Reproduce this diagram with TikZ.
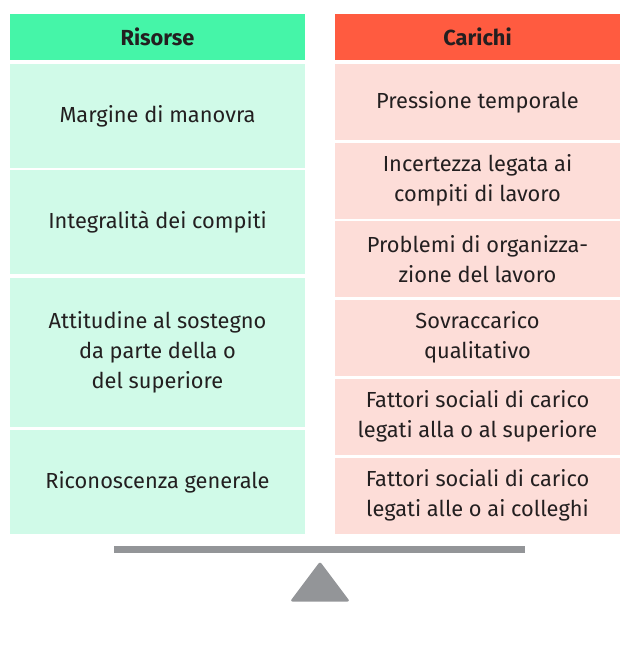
\documentclass[tikz,border=0pt]{standalone}
\usepackage{fontspec}
\setmainfont{Fira Sans}
\definecolor{hgreen}{HTML}{45F5A8}
\definecolor{lgreen}{HTML}{D0FAE8}
\definecolor{hred}{HTML}{FF5B40}
\definecolor{lred}{HTML}{FDDDD8}
\definecolor{txt}{HTML}{231F20}
\definecolor{scalegray}{HTML}{939598}
\begin{document}
\begin{tikzpicture}[x=1pt,y=-1pt,
  cell/.style={anchor=north west, inner sep=0pt, outer sep=0pt, align=center,
    text=txt, font=\fontsize{21.8}{30}\selectfont},
  lcell/.style={cell, fill=lgreen, minimum width=295pt},
  rcell/.style={cell, fill=lred, minimum width=285pt, minimum height=76pt},
  lhead/.style={cell, fill=hgreen, minimum width=295pt, minimum height=46pt, font=\fontsize{21.8}{30}\selectfont\bfseries},
  rhead/.style={cell, fill=hred, minimum width=285pt, minimum height=46pt, font=\fontsize{21.8}{30}\selectfont\bfseries}]
\useasboundingbox (0,0) rectangle (620,645);
% headers
\node[lhead] (lh) at (10,14) {Risorse};
\node[rhead] (rh) at (335,14) {Carichi};
% left column
\node[lcell, minimum height=104pt] (l1) at (10,64) {Margine di manovra};
\node[lcell, minimum height=104pt] (l2) at (10,170) {Integralità dei compiti};
\node[lcell, minimum height=149pt] (l3) at (10,278) {Attitudine al sostegno\\da parte della o\\del superiore};
\node[lcell, minimum height=104pt] (l4) at (10,430) {Riconoscenza generale};
% right column
\node[rcell] (r1) at (335,64) {Pressione temporale};
\node[rcell] (r2) at (335,142.5) {Incertezza legata ai\\compiti di lavoro};
\node[rcell] (r3) at (335,221) {Problemi di organizza-\\zione del lavoro};
\node[rcell] (r4) at (335,299.5) {Sovraccarico\\qualitativo};
\node[rcell] (r5) at (335,378.5) {Fattori sociali di carico\\legati alla o al superiore};
\node[rcell] (r6) at (335,457.5) {Fattori sociali di carico\\legati alle o ai colleghi};
% balance
\fill[scalegray] (114,545.5) rectangle (525,552.5);
\fill[scalegray, rounded corners=2.5pt] (290,601.5) -- (320,561.5) -- (350,601.5) -- cycle;
\end{tikzpicture}
\end{document}
